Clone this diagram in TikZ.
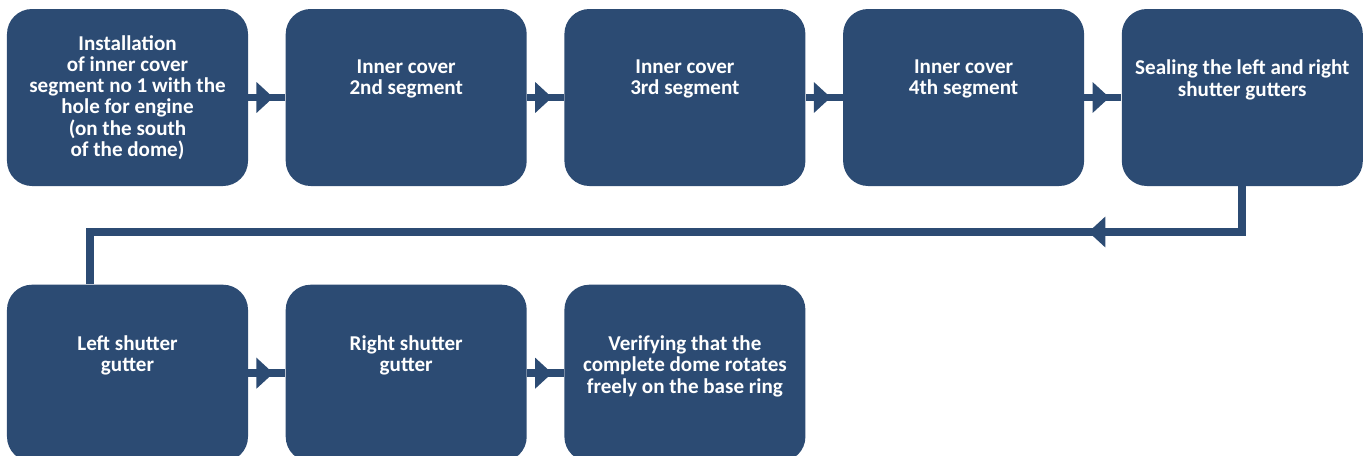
\documentclass[tikz,border=0pt]{standalone}
\usepackage{fontspec}
\setmainfont{Carlito}
\usepackage{tikz}
\usetikzlibrary{positioning}
\usetikzlibrary{arrows.meta}
\usetikzlibrary{decorations.markings}
\definecolor{domeblue}{RGB}{44,75,115}
\tikzstyle{stepbox} = [fill=domeblue, rounded corners=0.5cm, minimum width=4.82cm, minimum height=3.54cm, inner sep=0pt]
\tikzstyle{steptext} = [inner sep=0pt, align=center, text=white, font=\bfseries\fontsize{12}{12.1}\selectfont]
\tikzset{flow/.style={draw=domeblue, line width=4.5pt, line join=miter,
	decoration={markings, mark=at position #1 with {\arrow[domeblue]{Triangle[length=9.6pt,width=17pt]}}},
	postaction={decorate}}}

\begin{document}
\begin{tikzpicture}
	\useasboundingbox (0,0) rectangle (27.36,-9.12);

	% ------------------- First row ------------------- %
	\node[stepbox] (b1) at (2.55,-1.95) {};
	\node[stepbox, right=0.74cm of b1] (b2) {};
	\node[stepbox, right=0.74cm of b2] (b3) {};
	\node[stepbox, right=0.74cm of b3] (b4) {};
	\node[stepbox, right=0.74cm of b4] (b5) {};

	% ------------------- Second row ------------------- %
	\node[stepbox, below=1.96cm of b1] (b6) {};
	\node[stepbox, right=0.74cm of b6] (b7) {};
	\node[stepbox, right=0.74cm of b7] (b8) {};

	% ------------------- Texts ------------------- %
	\node[steptext] (t1) at (b1.center) {Installation\\of inner cover\\segment no 1 with the\\hole for engine\\(on the south\\of the dome)};
	\node[steptext, anchor=north] (t2) at ([yshift=-1.02cm]b2.north) {Inner cover\\2nd segment};
	\node[steptext, anchor=north] (t3) at ([yshift=-1.02cm]b3.north) {Inner cover\\3rd segment};
	\node[steptext, anchor=north] (t4) at ([yshift=-1.02cm]b4.north) {Inner cover\\4th segment};
	\node[steptext, anchor=north] (t5) at ([yshift=-1.02cm]b5.north) {Sealing the left and right\\shutter gutters};
	\node[steptext, anchor=north] (t6) at ([yshift=-1.02cm]b6.north) {Left shutter\\gutter};
	\node[steptext, anchor=north] (t7) at ([yshift=-1.02cm]b7.north) {Right shutter\\gutter};
	\node[steptext, anchor=north] (t8) at ([yshift=-1.02cm]b8.north) {Verifying that the\\complete dome rotates\\freely on the base ring};

	% ------------------- Connectors ------------------- %
	\draw[flow=0.5cm] (b1) -- (b2);
	\draw[flow=0.5cm] (b2) -- (b3);
	\draw[flow=0.5cm] (b3) -- (b4);
	\draw[flow=0.5cm] (b4) -- (b5);
	\draw[flow=0.5cm] (b6) -- (b7);
	\draw[flow=0.5cm] (b7) -- (b8);

	\coordinate (fb) at (1.8,-4.64);
	\draw[flow=3.99cm] (b5.south) |- (fb) -- (fb |- b6.north);
\end{tikzpicture}
\end{document}
